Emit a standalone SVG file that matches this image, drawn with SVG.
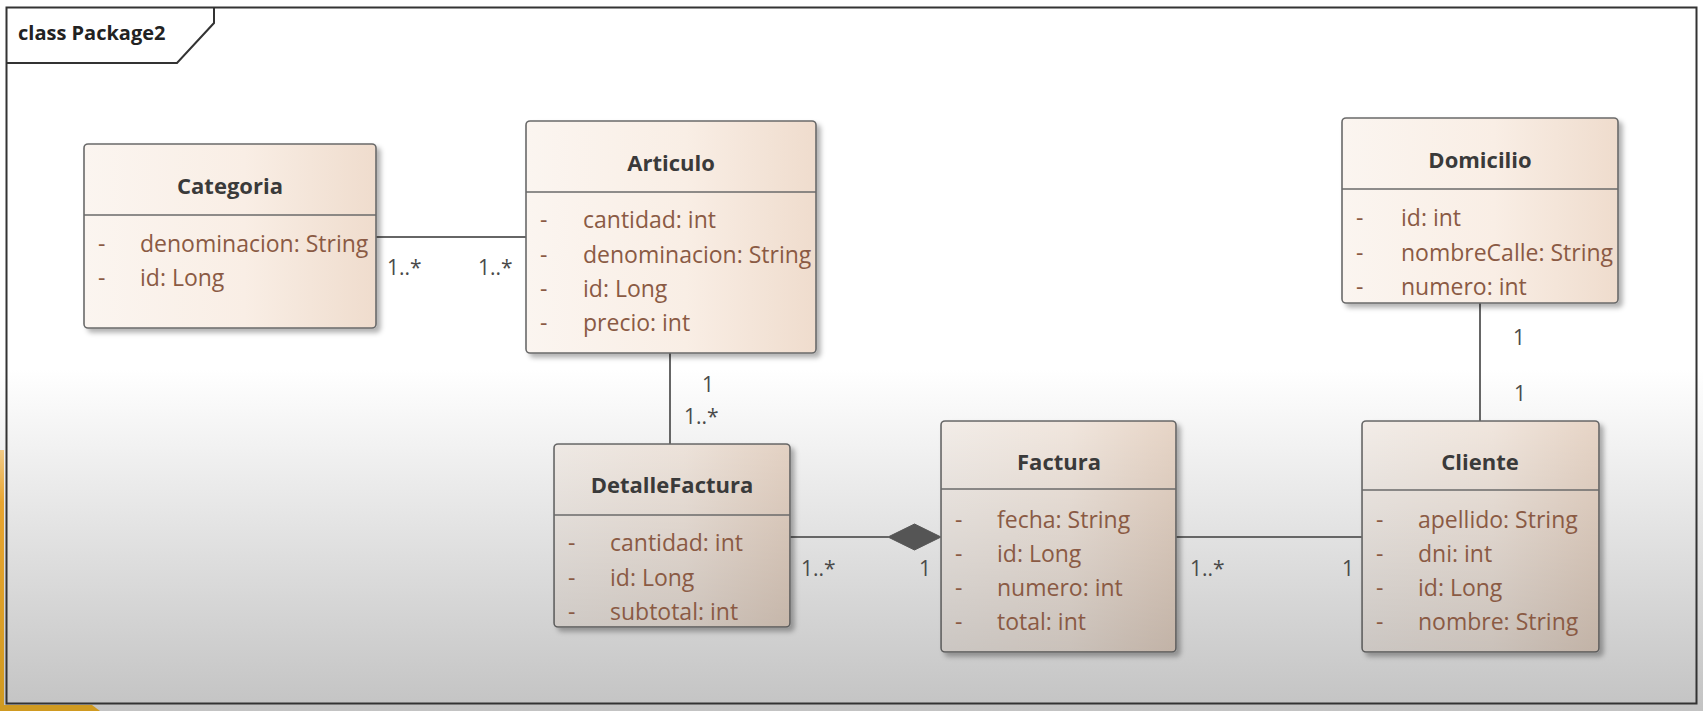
<svg xmlns="http://www.w3.org/2000/svg" width="1703" height="711" viewBox="0 0 1703 711">
<style>
  .box{stroke:#6a6a6a;stroke-width:1.6}
  .sep{stroke:#6a6a6a;stroke-width:1.6}
  .title{font-family:"Open Sans","Noto Sans",sans-serif;font-weight:700;font-size:22px;fill:#3a3a3a;text-anchor:middle}
  .attr{font-family:"Open Sans","Noto Sans",sans-serif;font-size:23px;fill:#8a5a44}
  .mult{font-family:"Open Sans","Noto Sans",sans-serif;font-size:21px;fill:#4a4a4a}
  .conn{stroke:#666;stroke-width:2;fill:none}
  .frame{stroke:#333;stroke-width:2;fill:none}
</style>
<defs>
  <linearGradient id="bg" x1="0" y1="0" x2="0" y2="711" gradientUnits="userSpaceOnUse">
    <stop offset="0.52" stop-color="#ffffff"/>
    <stop offset="1" stop-color="#c3c3c3"/>
  </linearGradient>
  <linearGradient id="shade" x1="0" y1="0" x2="0" y2="711" gradientUnits="userSpaceOnUse">
    <stop offset="0.52" stop-color="#000" stop-opacity="0"/>
    <stop offset="1" stop-color="#000" stop-opacity="0.23"/>
  </linearGradient>
  <linearGradient id="fill" x1="0" y1="0" x2="1" y2="0">
    <stop offset="0" stop-color="#fbf5f0"/>
    <stop offset="0.55" stop-color="#f9eee5"/>
    <stop offset="1" stop-color="#efdccd"/>
  </linearGradient>
  <linearGradient id="orange" x1="0" y1="450" x2="0" y2="711" gradientUnits="userSpaceOnUse">
    <stop offset="0" stop-color="#f0b040" stop-opacity="0.6"/>
    <stop offset="0.2" stop-color="#e8a530"/>
    <stop offset="1" stop-color="#d09a20"/>
  </linearGradient>
  <filter id="shadow" x="-10%" y="-10%" width="130%" height="130%">
    <feDropShadow dx="4" dy="4" stdDeviation="2.5" flood-color="#000" flood-opacity="0.3"/>
  </filter>
</defs>

<rect x="0" y="0" width="1703" height="711" fill="url(#bg)"/>
<polygon points="0,450 4,450 4,711 0,711" fill="url(#orange)"/>
<polygon points="0,705 92,705 100,711 0,711" fill="#d09a20"/>

<g id="frame">
  <rect class="frame" x="6.5" y="7.5" width="1690" height="696"/>
  <polyline class="frame" points="6.5,63 177,63 214,23 214,7.5"/>
  <text x="18" y="40" font-family="'Open Sans','Noto Sans',sans-serif" font-weight="700" font-size="20" fill="#222">class Package2</text>
</g>

<g id="connectors">
  <path class="conn" d="M376 237 H526"/>
  <path class="conn" d="M670 353 V444"/>
  <path class="conn" d="M790 537 H888"/>
  <polygon points="888,537 914.5,524 941,537 914.5,550" fill="#555" stroke="#555" stroke-width="1"/>
  <path class="conn" d="M1176 537 H1362"/>
  <path class="conn" d="M1480 303 V421"/>
  <text class="mult" x="387" y="275">1..*</text>
  <text class="mult" x="478" y="275">1..*</text>
  <text class="mult" x="702" y="392">1</text>
  <text class="mult" x="684" y="424">1..*</text>
  <text class="mult" x="801" y="576">1..*</text>
  <text class="mult" x="919" y="576">1</text>
  <text class="mult" x="1190" y="576">1..*</text>
  <text class="mult" x="1342" y="576">1</text>
  <text class="mult" x="1513" y="345">1</text>
  <text class="mult" x="1514" y="401">1</text>
</g>

<g id="Categoria">
  <rect class="box" x="84" y="144" width="292" height="184" rx="4" fill="url(#fill)" filter="url(#shadow)"/>
  <rect x="84" y="144" width="292" height="184" rx="4" fill="url(#shade)"/>
  <line class="sep" x1="84" y1="215" x2="376" y2="215"/>
  <text class="title" x="230" y="194">Categoria</text>
  <text class="attr" x="98" y="252">-</text><text class="attr" x="140" y="252">denominacion: String</text>
  <text class="attr" x="98" y="286">-</text><text class="attr" x="140" y="286">id: Long</text>
</g>

<g id="Articulo">
  <rect class="box" x="526" y="121" width="290" height="232" rx="4" fill="url(#fill)" filter="url(#shadow)"/>
  <rect x="526" y="121" width="290" height="232" rx="4" fill="url(#shade)"/>
  <line class="sep" x1="526" y1="192" x2="816" y2="192"/>
  <text class="title" x="671" y="171">Articulo</text>
  <text class="attr" x="540" y="228">-</text><text class="attr" x="583" y="228">cantidad: int</text>
  <text class="attr" x="540" y="263">-</text><text class="attr" x="583" y="263">denominacion: String</text>
  <text class="attr" x="540" y="297">-</text><text class="attr" x="583" y="297">id: Long</text>
  <text class="attr" x="540" y="331">-</text><text class="attr" x="583" y="331">precio: int</text>
</g>

<g id="Domicilio">
  <rect class="box" x="1342" y="118" width="276" height="185" rx="4" fill="url(#fill)" filter="url(#shadow)"/>
  <rect x="1342" y="118" width="276" height="185" rx="4" fill="url(#shade)"/>
  <line class="sep" x1="1342" y1="189" x2="1618" y2="189"/>
  <text class="title" x="1480" y="168">Domicilio</text>
  <text class="attr" x="1356" y="226">-</text><text class="attr" x="1401" y="226">id: int</text>
  <text class="attr" x="1356" y="261">-</text><text class="attr" x="1401" y="261">nombreCalle: String</text>
  <text class="attr" x="1356" y="295">-</text><text class="attr" x="1401" y="295">numero: int</text>
</g>

<g id="DetalleFactura">
  <rect class="box" x="554" y="444" width="236" height="183" rx="4" fill="url(#fill)" filter="url(#shadow)"/>
  <rect x="554" y="444" width="236" height="183" rx="4" fill="url(#shade)"/>
  <line class="sep" x1="554" y1="515" x2="790" y2="515"/>
  <text class="title" x="672" y="493">DetalleFactura</text>
  <text class="attr" x="568" y="551">-</text><text class="attr" x="610" y="551">cantidad: int</text>
  <text class="attr" x="568" y="586">-</text><text class="attr" x="610" y="586">id: Long</text>
  <text class="attr" x="568" y="620">-</text><text class="attr" x="610" y="620">subtotal: int</text>
</g>

<g id="Factura">
  <rect class="box" x="941" y="421" width="235" height="231" rx="4" fill="url(#fill)" filter="url(#shadow)"/>
  <rect x="941" y="421" width="235" height="231" rx="4" fill="url(#shade)"/>
  <line class="sep" x1="941" y1="489" x2="1176" y2="489"/>
  <text class="title" x="1059" y="470">Factura</text>
  <text class="attr" x="955" y="528">-</text><text class="attr" x="997" y="528">fecha: String</text>
  <text class="attr" x="955" y="562">-</text><text class="attr" x="997" y="562">id: Long</text>
  <text class="attr" x="955" y="596">-</text><text class="attr" x="997" y="596">numero: int</text>
  <text class="attr" x="955" y="630">-</text><text class="attr" x="997" y="630">total: int</text>
</g>

<g id="Cliente">
  <rect class="box" x="1362" y="421" width="237" height="231" rx="4" fill="url(#fill)" filter="url(#shadow)"/>
  <rect x="1362" y="421" width="237" height="231" rx="4" fill="url(#shade)"/>
  <line class="sep" x1="1362" y1="490" x2="1599" y2="490"/>
  <text class="title" x="1480" y="470">Cliente</text>
  <text class="attr" x="1376" y="528">-</text><text class="attr" x="1418" y="528">apellido: String</text>
  <text class="attr" x="1376" y="562">-</text><text class="attr" x="1418" y="562">dni: int</text>
  <text class="attr" x="1376" y="596">-</text><text class="attr" x="1418" y="596">id: Long</text>
  <text class="attr" x="1376" y="630">-</text><text class="attr" x="1418" y="630">nombre: String</text>
</g>
</svg>
